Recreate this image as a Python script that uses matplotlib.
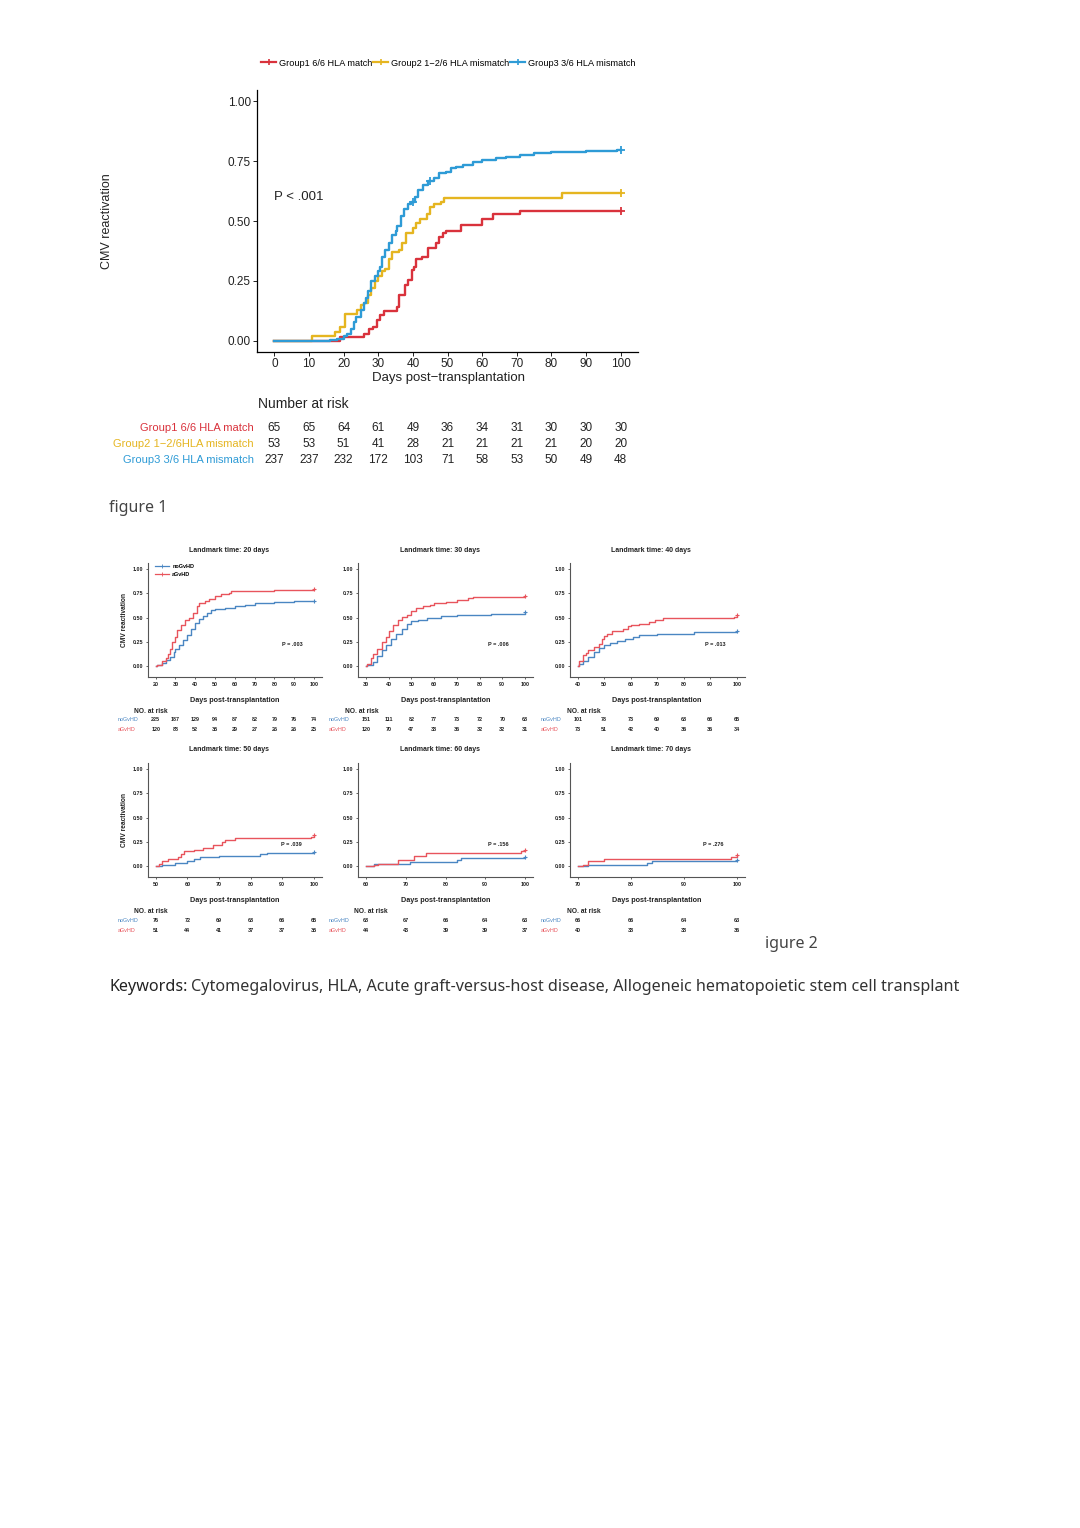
import matplotlib
matplotlib.use('Agg')
import matplotlib.pyplot as plt
import matplotlib.transforms as mtransforms
from matplotlib.lines import Line2D

plt.rcParams['font.family'] = ['Liberation Sans', 'DejaVu Sans']

W, H = 1080, 1528

# ---- figure 1 data: cumulative CMV reactivation by HLA group ----
g1_t = [0, 19, 26, 27.3, 28.5, 29.6, 30.6, 31.6, 35.5, 36, 37.8, 38.6, 39.7, 40.4, 41, 42.5, 44.5, 46.6,
        47.6, 48.7, 49.7, 53.8, 60, 63, 71, 100]
g1_y = [0, 0.015, 0.03, 0.049, 0.06, 0.088, 0.108, 0.125, 0.143, 0.19, 0.233, 0.254, 0.296, 0.31, 0.34,
        0.35, 0.386, 0.41, 0.435, 0.45, 0.46, 0.483, 0.51, 0.53, 0.54, 0.54]

g2_t = [0, 11, 17.5, 19, 20.3, 24, 25, 26, 27, 28, 29, 30, 31, 32, 33, 34, 36, 37, 38, 40, 41, 42, 44,
        45, 46, 48, 49, 83, 100]
g2_y = [0, 0.019, 0.038, 0.057, 0.113, 0.13, 0.15, 0.16, 0.19, 0.22, 0.25, 0.27, 0.29, 0.30, 0.34, 0.37,
        0.38, 0.41, 0.45, 0.47, 0.49, 0.51, 0.53, 0.56, 0.57, 0.58, 0.594, 0.615, 0.615]

g3_t = [0, 16, 18, 20, 21, 22, 23, 23.5, 25, 26, 26.5, 27, 28, 29, 30, 30.5, 31, 32, 33, 34, 35, 35.5,
        36.5, 37.5, 38.5, 39.5, 40.5, 41.5, 43, 44.5, 46, 47.5, 49.5, 51, 52.5, 54.5, 57.5, 60, 64, 67,
        71, 75, 80, 90, 99, 100]
g3_y = [0, 0.005, 0.01, 0.02, 0.03, 0.05, 0.08, 0.10, 0.13, 0.16, 0.18, 0.21, 0.25, 0.27, 0.29, 0.31,
        0.35, 0.38, 0.41, 0.44, 0.46, 0.48, 0.52, 0.55, 0.57, 0.58, 0.60, 0.63, 0.65, 0.665, 0.68, 0.70,
        0.705, 0.72, 0.727, 0.733, 0.747, 0.754, 0.761, 0.768, 0.775, 0.785, 0.789, 0.79, 0.796, 0.796]

g3_cens_t = [40, 45, 100]
g3_cens_y = [0.58, 0.665, 0.796]

group_names = ['Group1 6/6 HLA match', 'Group2 1\u22122/6 HLA mismatch', 'Group3 3/6 HLA mismatch']
risk_names = ['Group1 6/6 HLA match', 'Group2 1\u22122/6HLA mismatch', 'Group3 3/6 HLA mismatch']
risk_days = [0, 10, 20, 30, 40, 50, 60, 70, 80, 90, 100]
risk_g1 = [65, 65, 64, 61, 49, 36, 34, 31, 30, 30, 30]
risk_g2 = [53, 53, 51, 41, 28, 21, 21, 21, 21, 20, 20]
risk_g3 = [237, 237, 232, 172, 103, 71, 58, 53, 50, 49, 48]

# ---- figure 2 data: landmark analyses, noGvHD vs aGvHD ----
lm20_no_t = [20.5, 23, 25, 27, 29, 30, 32, 34, 36, 38, 40, 42, 44, 46, 48, 50, 55, 60, 65, 70, 75, 80, 90, 99, 100]
lm20_no_y = [0.01, 0.03, 0.06, 0.09, 0.14, 0.18, 0.22, 0.27, 0.32, 0.38, 0.44, 0.48, 0.52, 0.55, 0.58,
             0.59, 0.60, 0.62, 0.63, 0.645, 0.65, 0.66, 0.665, 0.675, 0.675]
lm20_a_t = [20.5, 23, 25, 26, 27, 28, 30, 31, 33, 35, 37, 39, 41, 42, 45, 47, 50, 53, 57, 58, 68, 80, 100]
lm20_a_y = [0.01, 0.05, 0.08, 0.12, 0.18, 0.25, 0.30, 0.37, 0.42, 0.47, 0.50, 0.55, 0.62, 0.65, 0.67,
            0.69, 0.72, 0.74, 0.75, 0.77, 0.775, 0.785, 0.79]

lm30_no_t = [30.5, 33, 35, 37, 39, 41, 43, 46, 48, 50, 53, 57, 60, 63, 70, 80, 85, 100]
lm30_no_y = [0.01, 0.04, 0.10, 0.17, 0.22, 0.28, 0.33, 0.38, 0.43, 0.46, 0.47, 0.49, 0.50, 0.52, 0.525,
             0.53, 0.54, 0.56]
lm30_a_t = [30.5, 32, 33, 35, 37, 39, 40, 42, 44, 46, 48, 50, 52, 55, 58, 60, 65, 70, 75, 77, 100]
lm30_a_y = [0.02, 0.08, 0.12, 0.18, 0.25, 0.30, 0.36, 0.42, 0.47, 0.51, 0.53, 0.57, 0.60, 0.62, 0.63,
            0.65, 0.66, 0.68, 0.70, 0.71, 0.72]

lm40_no_t = [40.5, 42, 44, 46, 48, 50, 52, 55, 58, 61, 63, 70, 84, 100]
lm40_no_y = [0.02, 0.05, 0.09, 0.14, 0.19, 0.22, 0.24, 0.26, 0.28, 0.30, 0.32, 0.33, 0.35, 0.36]
lm40_a_t = [40.5, 42, 43, 44, 46, 48, 49, 50, 51, 53, 57, 59, 60, 63, 67, 69, 72, 75, 99, 100]
lm40_a_y = [0.05, 0.11, 0.13, 0.16, 0.20, 0.23, 0.28, 0.31, 0.33, 0.36, 0.38, 0.41, 0.42, 0.43, 0.45,
            0.47, 0.49, 0.50, 0.51, 0.53]

lm50_no_t = [50.5, 52, 56, 60, 62, 64, 70, 83, 85, 100]
lm50_no_y = [0.0, 0.01, 0.03, 0.05, 0.07, 0.09, 0.10, 0.12, 0.13, 0.14]
lm50_a_t = [50.5, 51, 52, 54, 57, 58, 59, 62, 65, 68, 71, 72, 75, 99, 100]
lm50_a_y = [0.0, 0.02, 0.05, 0.07, 0.09, 0.12, 0.15, 0.17, 0.19, 0.22, 0.25, 0.27, 0.29, 0.30, 0.32]

lm60_no_t = [60.5, 62, 68, 71, 83, 84, 100]
lm60_no_y = [0.0, 0.02, 0.025, 0.04, 0.06, 0.08, 0.09]
lm60_a_t = [60.5, 62, 63, 68, 72, 75, 99, 100]
lm60_a_y = [0.0, 0.01, 0.02, 0.06, 0.10, 0.13, 0.15, 0.17]

lm70_no_t = [70.3, 71, 72, 83, 84, 100]
lm70_no_y = [0.0, 0.005, 0.01, 0.03, 0.05, 0.06]
lm70_a_t = [70.3, 71, 72, 75, 99, 100]
lm70_a_y = [0.0, 0.01, 0.05, 0.07, 0.09, 0.11]

lm_pvals = ['P = .003', 'P = .006', 'P = .013', 'P = .039', 'P = .156', 'P = .276']
lm_risk_no = [[225, 187, 129, 94, 87, 82, 79, 76, 74],
              [151, 111, 82, 77, 73, 72, 70, 68],
              [101, 78, 73, 69, 68, 66, 65],
              [76, 72, 69, 68, 66, 65],
              [68, 67, 66, 64, 63],
              [66, 66, 64, 63]]
lm_risk_a = [[120, 88, 52, 35, 29, 27, 26, 26, 25],
             [120, 70, 47, 38, 36, 32, 32, 31],
             [73, 51, 42, 40, 36, 36, 34],
             [51, 44, 41, 37, 37, 35],
             [44, 43, 39, 39, 37],
             [40, 38, 38, 36]]
lm_starts = [20, 30, 40, 50, 60, 70]

keywords = 'Cytomegalovirus, HLA, Acute graft-versus-host disease, Allogeneic hematopoietic stem cell transplant'

RED, YEL, BLU = '#D9323C', '#E5B520', '#2E9BD6'
S_BLU, S_RED = '#4A86C2', '#E8545C'


def rect(l, t, r, b):
    return [l / W, 1 - b / H, (r - l) / W, (b - t) / H]


def fy(y):
    return 1 - y / H


fig = plt.figure(figsize=(10.8, 15.28), dpi=100)
fig.patch.set_facecolor('white')

# ================= figure 1 =================
ax = fig.add_axes(rect(257, 90, 638, 352))
ax.step(g1_t, g1_y, where='post', color=RED, lw=1.7)
ax.step(g2_t, g2_y, where='post', color=YEL, lw=1.7)
ax.step(g3_t, g3_y, where='post', color=BLU, lw=1.7)
ax.plot([100], [g1_y[-1]], '+', color=RED, ms=6, mew=1.3)
ax.plot([100], [g2_y[-1]], '+', color=YEL, ms=6, mew=1.3)
ax.plot(g3_cens_t, g3_cens_y, '+', color=BLU, ms=6, mew=1.3, ls='none')
ax.set_xlim(-5, 105)
ax.set_ylim(-0.046, 1.046)
ax.set_xticks(risk_days)
ax.set_yticks([0, 0.25, 0.5, 0.75, 1.0])
ax.set_yticklabels(['0.00', '0.25', '0.50', '0.75', '1.00'])
for s in ['top', 'right']:
    ax.spines[s].set_visible(False)
for s in ['left', 'bottom']:
    ax.spines[s].set_linewidth(0.9)
ax.tick_params(labelsize=8.5, colors='#222', length=3, width=0.7, pad=1.5)
ax.text(0, 0.60, 'P < .001', fontsize=9.5, va='center', ha='left', color='#222')

handles = [Line2D([], [], color=c, lw=1.6, marker='+', ms=5, mew=1.2) for c in (RED, YEL, BLU)]
fig.legend(handles, group_names, loc='center left', bbox_to_anchor=(253 / W, fy(63)), ncol=3,
           frameon=False, fontsize=6.6, handlelength=1.6, handletextpad=0.35, columnspacing=0.1)

fig.text(107 / W, fy(221), 'CMV reactivation', rotation=90, ha='center', va='center', fontsize=9, color='#222')
fig.text(448 / W, fy(378), 'Days post\u2212transplantation', ha='center', va='center', fontsize=9.5, color='#222')
fig.text(258 / W, fy(404), 'Number at risk', ha='left', va='center', fontsize=10, color='#222')

tr = mtransforms.blended_transform_factory(ax.transData, fig.transFigure)
for row_y, name, vals, col in zip([428, 444, 460], risk_names, [risk_g1, risk_g2, risk_g3], [RED, YEL, BLU]):
    fig.text(254 / W, fy(row_y), name, ha='right', va='center', fontsize=8, color=col)
    for d, v in zip(risk_days, vals):
        ax.text(d, fy(row_y), str(v), transform=tr, ha='center', va='center', fontsize=8.5, color='#222')

fig.text(109 / W, fy(508), 'figure 1', ha='left', va='center', fontsize=11.5, color='#444',
         family=['Noto Sans', 'DejaVu Sans'])

# ================= figure 2 =================
cols = [(155.7, 314.0), (366.0, 525.0), (577.7, 736.7)]
rows = [(666.0, 569.0), (866.0, 769.0)]
nar_x = [[134, 345, 567], [134, 354, 567]]
lab_x = [118, 329, 541]
curves = [(lm20_no_t, lm20_no_y, lm20_a_t, lm20_a_y),
          (lm30_no_t, lm30_no_y, lm30_a_t, lm30_a_y),
          (lm40_no_t, lm40_no_y, lm40_a_t, lm40_a_y),
          (lm50_no_t, lm50_no_y, lm50_a_t, lm50_a_y),
          (lm60_no_t, lm60_no_y, lm60_a_t, lm60_a_y),
          (lm70_no_t, lm70_no_y, lm70_a_t, lm70_a_y)]
pval_x = [89, 88.3, 91.8, 93, 93.4, 95.6]

for i in range(6):
    r, c = divmod(i, 3)
    xs, xe = cols[c]
    y0, y1 = rows[r]
    span = xe - xs
    ys = y0 - y1
    start = lm_starts[i]
    pad = 0.05 * (100 - start)
    a = fig.add_axes(rect(xs - 0.05 * span, y1 - 0.06 * ys, xe + 0.05 * span, y0 + 0.113 * ys))
    no_t, no_y, a_t, a_y = curves[i]
    a.step([start] + no_t, [0] + no_y, where='post', color=S_BLU, lw=1.0)
    a.step([start] + a_t, [0] + a_y, where='post', color=S_RED, lw=1.0)
    a.plot([no_t[-1]], [no_y[-1]], '+', color=S_BLU, ms=3, mew=0.8)
    a.plot([a_t[-1]], [a_y[-1]], '+', color=S_RED, ms=3, mew=0.8)
    a.set_xlim(start - pad, 100 + pad)
    a.set_ylim(-0.113, 1.06)
    ticks = list(range(start, 101, 10))
    a.set_xticks(ticks)
    a.set_yticks([0, 0.25, 0.5, 0.75, 1.0])
    a.set_yticklabels(['0.00', '0.25', '0.50', '0.75', '1.00'])
    for s in ['top', 'right']:
        a.spines[s].set_visible(False)
    for s in ['left', 'bottom']:
        a.spines[s].set_linewidth(0.8)
        a.spines[s].set_color('#555')
    a.tick_params(labelsize=3.9, length=1.5, width=0.5, pad=2, colors='#222')
    for lab in a.get_xticklabels() + a.get_yticklabels():
        lab.set_fontweight('bold')
    a.text(pval_x[i], 0.22, lm_pvals[i], fontsize=4, fontweight='bold', ha='center', va='center', color='#222')

    cx = (xs - 0.05 * span + xe + 0.05 * span) / 2
    fig.text((cx - 6) / W, fy(y1 - 19), 'Landmark time: %d days' % start, ha='center', va='center',
             fontsize=5, fontweight='bold', color='#222')
    fig.text(cx / W, fy(y0 + 35), 'Days post-transplantation', ha='center', va='center',
             fontsize=5.2, fontweight='bold', color='#222')
    fig.text(nar_x[r][c] / W, fy(y0 + 45), 'NO. at risk', ha='left', va='center',
             fontsize=4.8, fontweight='bold', color='#222')
    ttr = mtransforms.blended_transform_factory(a.transData, fig.transFigure)
    for k, (name, vals, colr) in enumerate(zip(['noGvHD', 'aGvHD'], [lm_risk_no[i], lm_risk_a[i]], [S_BLU, S_RED])):
        yy = fy(y0 + 54 + 10 * k)
        fig.text(lab_x[c] / W, yy, name, ha='left', va='center', fontsize=3.9, color=colr)
        for d, v in zip(ticks, vals):
            a.text(d, yy, str(v), transform=ttr, ha='center', va='center', fontsize=3.9,
                   fontweight='bold', color='#222')
    if c == 0:
        a.set_ylabel('CMV reactivation', fontsize=4.8, fontweight='bold', labelpad=3, color='#222')
    if i == 0:
        lh = [Line2D([], [], color=S_BLU, lw=0.9, marker='+', ms=2.5, mew=0.6),
              Line2D([], [], color=S_RED, lw=0.9, marker='+', ms=2.5, mew=0.6)]
        leg = a.legend(lh, ['noGvHD', 'aGvHD'], loc='upper left', bbox_to_anchor=(0.01, 1.04), frameon=False,
                       fontsize=4, handlelength=2.6, handletextpad=0.6, labelspacing=0.6)
        for t in leg.get_texts():
            t.set_fontweight('bold')

fig.text(765 / W, fy(944), 'igure 2', ha='left', va='center', fontsize=11.5, color='#444',
         family=['Noto Sans', 'DejaVu Sans'])

# keywords line
kw = fig.text(109 / W, fy(987), 'Keywords:', ha='left', va='center', fontsize=11.6, fontweight='bold',
              color='#222', family=['Noto Sans', 'DejaVu Sans'])
fig.canvas.draw()
bb = kw.get_window_extent()
fig.text((bb.x1 + 4) / W, fy(987), keywords, ha='left', va='center', fontsize=11.6, color='#333',
         family=['Noto Sans', 'DejaVu Sans'])

fig.savefig('out.png', dpi=100, facecolor='white')
